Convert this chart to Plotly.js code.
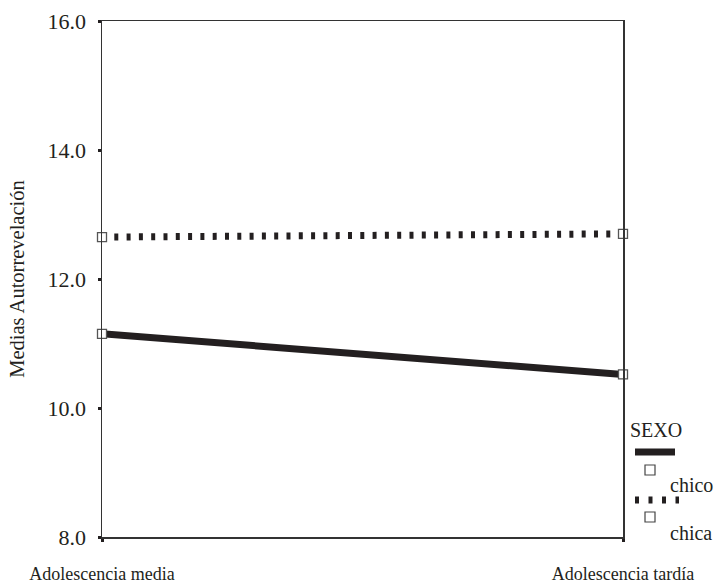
<!DOCTYPE html>
<html>
<head>
<meta charset="utf-8">
<script src="https://cdn.plot.ly/plotly-3.0.1.min.js"></script>
<style>html,body{margin:0;padding:0;background:#fff;}#chart{width:727px;height:586px;}</style>
</head>
<body>
<div id="chart"></div>
<script>
const categories = ["Adolescencia media", "Adolescencia tardía"];
const chico = [11.15, 10.52];
const chica = [12.65, 12.70];
const yTicks = [8, 10, 12, 14, 16];
const yTickText = ["8.0", "10.0", "12.0", "14.0", "16.0"];

const FONT = "'Liberation Serif', 'DejaVu Serif', serif";
const INK = "#231f20";
const xIdx = categories.map((c, i) => i);

const W = 727, H = 586, L = 102, R = 104, T = 21, B = 49;
const pw = W - L - R, ph = H - T - B;
const px = v => (v - L) / pw;
const py = v => (H - B - v) / ph;

const traces = [
  {x: xIdx, y: chico, type: "scatter", mode: "lines+markers", name: "chico",
   line: {color: INK, width: 7}, cliponaxis: false,
   marker: {symbol: "square", size: 9, color: "#fff", line: {color: "#555", width: 1.3}}},
  {x: xIdx, y: chica, type: "scatter", mode: "lines+markers", name: "chica",
   line: {color: INK, width: 7, dash: "4px,8.3px"}, cliponaxis: false,
   marker: {symbol: "square", size: 9, color: "#fff", line: {color: "#555", width: 1.3}}}
];

const layout = {
  width: W, height: H,
  margin: {l: L, r: R, t: T, b: B},
  paper_bgcolor: "#fff", plot_bgcolor: "#fff",
  showlegend: false,
  font: {family: FONT, color: INK, size: 20},
  xaxis: {
    range: [0, 1], tickvals: xIdx, ticktext: categories,
    showgrid: false, zeroline: false, showline: true, mirror: true,
    linecolor: "#333", linewidth: 1.5,
    ticks: "outside", ticklen: 3, tickwidth: 3, tickcolor: INK,
    ticklabelstandoff: 17, tickfont: {family: FONT, size: 18, color: INK}
  },
  yaxis: {
    range: [8, 16], tickvals: yTicks, ticktext: yTickText,
    showgrid: false, zeroline: false, showline: true, mirror: true,
    linecolor: "#333", linewidth: 1.5,
    ticks: "outside", ticklen: 3, tickwidth: 3, tickcolor: INK,
    ticklabelstandoff: 7, tickfont: {family: FONT, size: 22, color: INK},
    title: {text: "Medias Autorrevelación", standoff: 17, font: {family: FONT, size: 20.5, color: INK}}
  },
  shapes: [
    {type: "line", xref: "paper", yref: "paper", x0: px(635), x1: px(675), y0: py(452), y1: py(452),
     line: {color: INK, width: 7}},
    {type: "rect", xref: "paper", yref: "paper", x0: px(645), x1: px(655), y0: py(475), y1: py(465),
     line: {color: "#444", width: 1.2}, fillcolor: "#fff"},
    {type: "line", xref: "paper", yref: "paper", x0: px(635), x1: px(679), y0: py(500), y1: py(500),
     line: {color: INK, width: 7, dash: "4px,9.5px"}},
    {type: "rect", xref: "paper", yref: "paper", x0: px(645), x1: px(655), y0: py(522), y1: py(512),
     line: {color: "#444", width: 1.2}, fillcolor: "#fff"}
  ],
  annotations: [
    {text: "SEXO", xref: "paper", yref: "paper", x: px(628), y: py(430), xanchor: "left", yanchor: "middle",
     showarrow: false, font: {family: FONT, size: 20, color: INK}},
    {text: "chico", xref: "paper", yref: "paper", x: px(668), y: py(485), xanchor: "left", yanchor: "middle",
     showarrow: false, font: {family: FONT, size: 20, color: INK}},
    {text: "chica", xref: "paper", yref: "paper", x: px(668), y: py(533), xanchor: "left", yanchor: "middle",
     showarrow: false, font: {family: FONT, size: 20, color: INK}}
  ]
};

Plotly.newPlot("chart", traces, layout, {displayModeBar: false, staticPlot: true});
</script>
</body>
</html>
